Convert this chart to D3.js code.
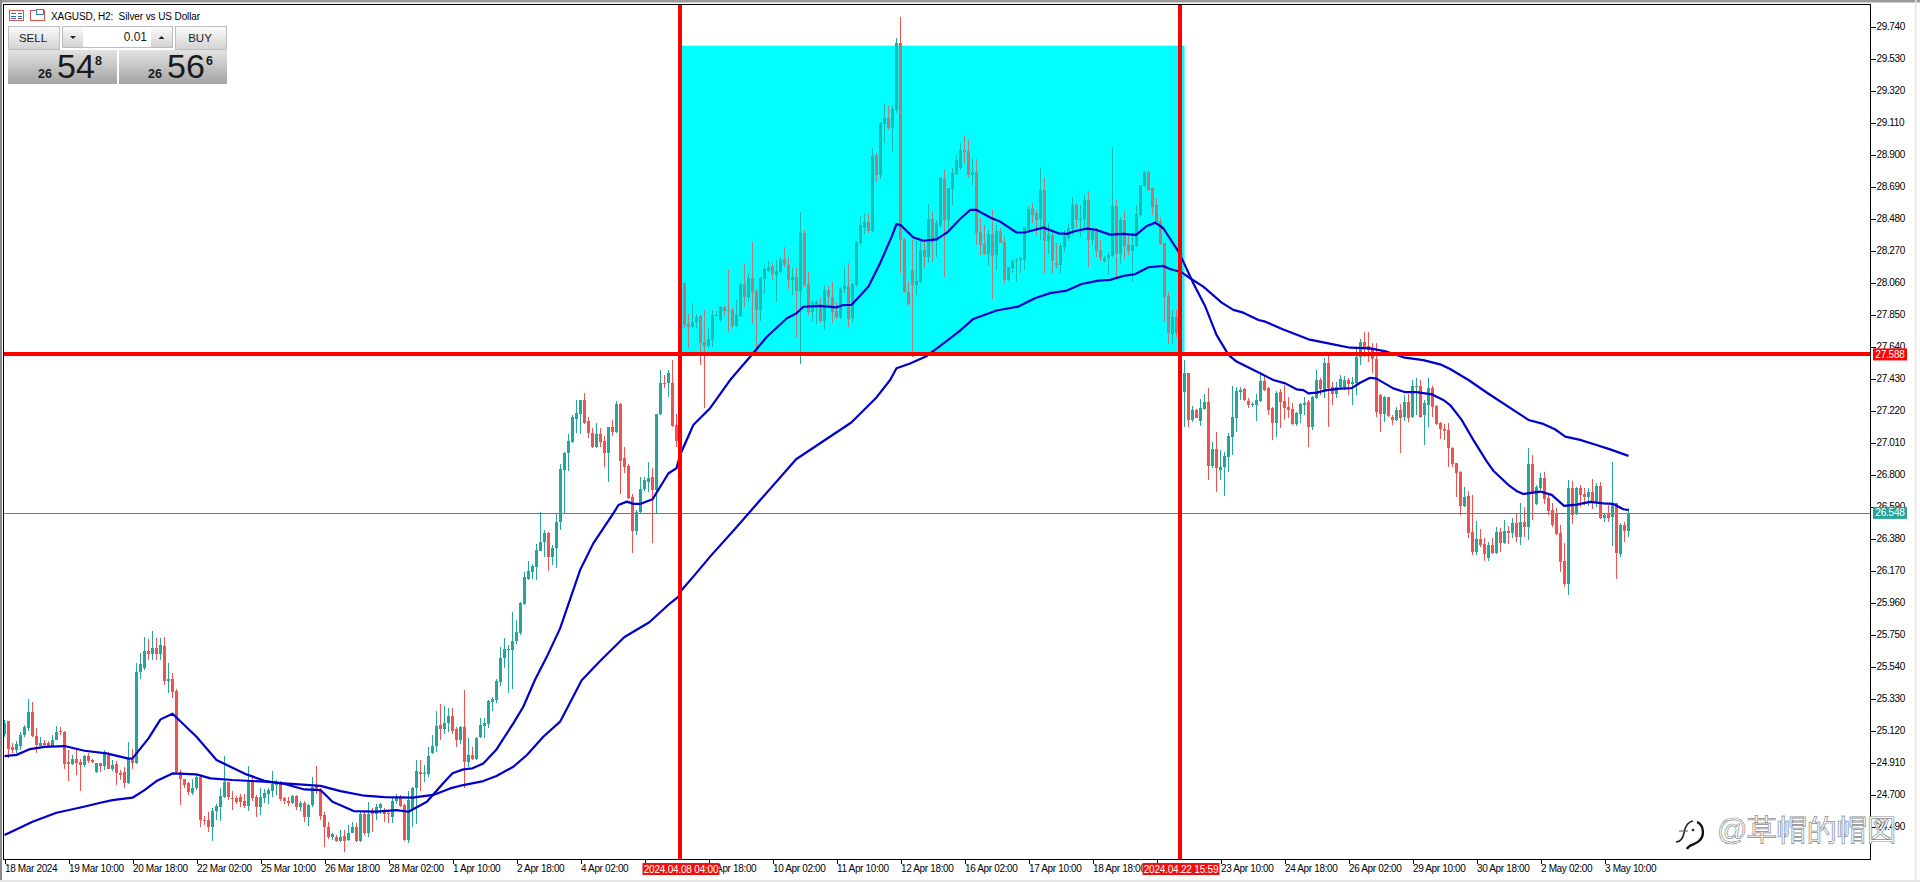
<!DOCTYPE html>
<html><head><meta charset="utf-8"><title>XAGUSD H2</title>
<script src="https://cdn.jsdelivr.net/npm/d3@7/dist/d3.min.js"></script>
<style>html,body{margin:0;padding:0;background:#fff;overflow:hidden}svg{display:block}
text{font-family:"Liberation Sans",Arial,sans-serif}</style></head><body><svg id="c" width="1920" height="882"></svg>
<script>
// open, high, low, close per tick group of 16 two-hour bars
const bars18Mar=[[25.10,25.19,25.08,25.17],[25.18,25.18,24.94,25.00],[25.01,25.04,24.97,24.99],[24.99,25.05,24.97,25.03],[25.02,25.11,24.99,25.09],[25.09,25.155,25.08,25.145],[25.135,25.325,25.12,25.24],[25.24,25.31,25.08,25.085],[25.085,25.135,24.975,25.025],[25.02,25.08,25.02,25.04],[25.035,25.06,25.015,25.025],[25.035,25.05,25.015,25.02],[25.02,25.09,25.015,25.06],[25.06,25.15,25.055,25.11],[25.12,25.145,25.09,25.11],[25.11,25.12,24.87,24.90]];
const bars19Mar=[[24.915,24.99,24.79,24.90],[24.90,24.96,24.895,24.93],[24.93,24.99,24.83,24.905],[24.915,24.935,24.72,24.895],[24.895,24.96,24.88,24.95],[24.95,24.97,24.905,24.92],[24.925,24.935,24.905,24.915],[24.845,24.91,24.84,24.905],[24.905,24.91,24.845,24.885],[24.885,24.99,24.86,24.97],[24.96,24.98,24.865,24.87],[24.865,24.925,24.855,24.895],[24.90,24.92,24.76,24.84],[24.84,24.86,24.795,24.825],[24.85,24.88,24.74,24.775],[24.775,25.045,24.77,24.93]];
const bars20Mar=[[24.93,25.0,24.87,24.905],[24.905,25.56,24.90,25.505],[25.505,25.63,25.46,25.555],[25.53,25.735,25.52,25.64],[25.64,25.72,25.585,25.625],[25.62,25.775,25.58,25.66],[25.66,25.725,25.585,25.625],[25.625,25.725,25.585,25.68],[25.675,25.735,25.42,25.445],[25.445,25.565,25.365,25.455],[25.455,25.50,25.335,25.375],[25.38,25.39,24.84,24.85],[24.85,24.86,24.63,24.80],[24.80,24.805,24.74,24.76],[24.775,24.785,24.695,24.715],[24.71,24.80,24.695,24.74]];
const bars22Mar=[[24.74,24.825,24.73,24.815],[24.815,24.825,24.49,24.53],[24.535,24.56,24.50,24.525],[24.53,24.585,24.455,24.49],[24.49,24.61,24.395,24.595],[24.59,24.64,24.53,24.625],[24.62,24.745,24.525,24.69],[24.685,24.95,24.68,24.785],[24.78,24.785,24.665,24.685],[24.675,24.72,24.60,24.67],[24.68,24.69,24.64,24.65],[24.685,24.705,24.62,24.65],[24.655,24.705,24.61,24.625],[24.625,24.885,24.595,24.78],[24.78,24.815,24.655,24.675],[24.685,24.695,24.55,24.615]];
const bars25Mar=[[24.615,24.74,24.565,24.685],[24.68,24.735,24.645,24.71],[24.705,24.74,24.64,24.73],[24.725,24.855,24.685,24.77],[24.76,24.795,24.695,24.785],[24.775,24.79,24.655,24.67],[24.68,24.685,24.64,24.655],[24.66,24.685,24.625,24.645],[24.645,24.70,24.635,24.69],[24.69,24.695,24.60,24.62],[24.615,24.66,24.59,24.645],[24.645,24.655,24.52,24.555],[24.555,24.64,24.495,24.63],[24.63,24.815,24.62,24.75],[24.755,24.885,24.705,24.725],[24.725,24.74,24.53,24.56]];
const bars26Mar=[[24.565,24.585,24.355,24.485],[24.49,24.52,24.405,24.42],[24.42,24.45,24.40,24.44],[24.42,24.435,24.39,24.395],[24.395,24.47,24.39,24.42],[24.425,24.47,24.32,24.395],[24.40,24.50,24.395,24.45],[24.45,24.52,24.445,24.49],[24.485,24.515,24.39,24.395],[24.395,24.585,24.39,24.575],[24.575,24.595,24.435,24.445],[24.445,24.65,24.42,24.575],[24.585,24.61,24.455,24.57],[24.57,24.64,24.53,24.62],[24.61,24.645,24.575,24.635],[24.60,24.61,24.52,24.57]];
const bars28Mar=[[24.58,24.60,24.51,24.57],[24.55,24.68,24.51,24.66],[24.655,24.705,24.64,24.685],[24.675,24.70,24.615,24.625],[24.63,24.64,24.395,24.40],[24.40,24.725,24.385,24.665],[24.60,24.75,24.485,24.74],[24.74,24.925,24.505,24.855],[24.85,24.925,24.725,24.835],[24.835,24.895,24.78,24.84],[24.835,25.01,24.815,24.95],[24.97,25.09,24.965,25.02],[25.02,25.245,24.98,25.15],[25.155,25.295,25.055,25.13],[25.13,25.28,25.10,25.17],[25.17,25.265,25.11,25.215]];
const bars1Apr=[[25.215,25.265,25.10,25.12],[25.128,25.14,25.014,25.06],[25.06,25.15,25.03,25.145],[25.145,25.385,24.74,24.915],[24.915,25.07,24.88,24.96],[24.96,25.015,24.925,24.93],[24.93,25.08,24.925,25.07],[25.08,25.20,25.07,25.155],[25.15,25.205,25.07,25.17],[25.163,25.32,25.135,25.316],[25.305,25.34,25.245,25.33],[25.32,25.46,25.30,25.445],[25.44,25.67,25.41,25.596],[25.595,25.73,25.53,25.655],[25.652,25.68,25.365,25.655],[25.65,25.90,25.395,25.705]];
const bars2Apr=[[25.705,25.845,25.69,25.765],[25.76,25.965,25.745,25.955],[25.95,26.16,25.945,26.125],[26.117,26.23,26.108,26.17],[26.16,26.215,26.112,26.2],[26.195,26.345,26.108,26.305],[26.30,26.556,26.295,26.357],[26.355,26.435,26.256,26.414],[26.414,26.42,26.169,26.26],[26.256,26.337,26.206,26.315],[26.315,26.545,26.184,26.486],[26.486,26.869,26.436,26.834],[26.83,26.95,26.545,26.944],[26.94,27.066,26.82,27.022],[27.016,27.19,27.005,27.18],[27.162,27.289,27.07,27.202]];
const bars4Apr=[[27.197,27.289,27.066,27.289],[27.289,27.333,27.13,27.136],[27.15,27.18,27.038,27.07],[27.075,27.103,26.972,26.98],[26.98,27.136,26.972,27.066],[27.066,27.103,26.98,27.016],[27.02,27.05,26.85,26.944],[26.944,27.115,26.753,27.11],[27.11,27.158,27.05,27.08],[27.08,27.283,27.075,27.263],[27.263,27.267,26.672,26.891],[26.906,26.983,26.812,26.847],[26.856,26.867,26.637,26.644],[26.655,26.672,26.283,26.432],[26.432,26.567,26.403,26.556],[26.556,26.786,26.55,26.703]];
const bars5Apr=[[26.703,26.782,26.694,26.764],[26.75,26.885,26.688,26.775],[26.782,26.84,26.348,26.699],[26.699,27.197,26.545,27.197],[27.197,27.486,27.19,27.399],[27.403,27.453,27.366,27.392],[27.40,27.486,27.311,27.464],[27.403,27.552,27.114,27.119],[27.125,27.2,26.98,27.022],[27.02,28.1,26.99,28.05],[28.059,28.06,27.76,27.781],[27.787,27.853,27.633,27.77],[27.77,27.927,27.76,27.80],[27.80,27.855,27.76,27.836],[27.84,27.847,27.52,27.665],[27.672,27.88,27.235,27.643]];
const bars8Apr=[[27.643,27.76,27.63,27.687],[27.685,27.88,27.64,27.847],[27.845,27.87,27.84,27.85],[27.814,27.907,27.80,27.90],[27.897,27.907,27.85,27.875],[27.88,28.142,27.737,27.873],[27.878,27.89,27.76,27.775],[27.775,27.945,27.77,27.847],[27.84,28.059,27.835,28.05],[28.05,28.18,27.90,27.967],[27.967,28.12,27.934,28.087],[28.087,28.324,27.79,28.0],[28.007,28.02,27.595,27.88],[27.88,28.098,27.81,28.087],[28.08,28.175,27.985,28.146],[28.138,28.203,28.13,28.164]];
const bars10Apr=[[28.168,28.186,28.076,28.116],[28.11,28.208,27.934,28.138],[28.131,28.23,28.12,28.212],[28.217,28.29,28.164,28.175],[28.175,28.23,28.02,28.076],[28.076,28.153,27.978,28.094],[28.094,28.164,27.694,28.006],[28.006,28.525,27.525,28.387],[28.387,28.404,28.03,28.043],[28.05,28.13,27.847,27.868],[27.868,27.938,27.80,27.934],[27.89,27.945,27.79,27.934],[27.906,27.956,27.796,27.81],[27.81,28.043,27.748,28.01],[28.01,28.037,27.90,27.963],[27.967,28.065,27.796,27.868]];
const bars11Apr=[[27.875,27.934,27.818,27.836],[27.836,28.028,27.818,28.02],[28.02,28.164,27.99,28.037],[28.037,28.186,27.766,27.818],[27.825,28.059,27.80,28.05],[28.043,28.335,28.03,28.328],[28.317,28.496,28.306,28.437],[28.415,28.514,28.38,28.459],[28.459,28.514,28.382,28.40],[28.40,28.94,28.393,28.89],[28.897,28.908,28.72,28.765],[28.765,29.115,28.737,29.105],[29.10,29.229,28.973,29.142],[29.142,29.218,29.06,29.072],[29.072,29.225,28.918,29.20],[29.192,29.662,29.17,29.63]];
const bars12Apr=[[29.63,29.80,28.12,28.339],[28.343,28.35,27.99,28.0],[28.0,28.065,27.906,27.919],[28.142,28.339,27.573,28.043],[28.043,28.33,27.98,28.07],[28.066,28.335,28.055,28.273],[28.273,28.339,28.153,28.23],[28.23,28.575,28.186,28.474],[28.474,28.525,28.197,28.321],[28.33,28.47,28.23,28.453],[28.43,28.755,28.415,28.744],[28.739,28.803,28.094,28.47],[28.47,28.682,28.415,28.678],[28.672,28.81,28.568,28.781],[28.772,28.897,28.765,28.864],[28.81,28.978,28.798,28.93]];
const bars16Apr=[[28.93,29.02,28.84,28.917],[28.926,28.996,28.744,28.766],[28.766,28.875,28.70,28.788],[28.788,28.87,28.307,28.388],[28.392,28.482,28.241,28.307],[28.313,28.438,28.241,28.247],[28.247,28.405,28.169,28.379],[28.379,28.536,27.95,28.234],[28.241,28.438,28.143,28.398],[28.398,28.416,28.318,28.318],[28.328,28.361,28.059,28.077],[28.077,28.164,28.072,28.16],[28.154,28.208,28.12,28.204],[28.2,28.219,28.066,28.208],[28.208,28.23,28.12,28.219],[28.208,28.427,28.143,28.423]];
const bars17Apr=[[28.405,28.563,28.394,28.541],[28.547,28.58,28.449,28.503],[28.514,28.536,28.372,28.47],[28.475,28.81,28.34,28.668],[28.668,28.744,28.116,28.335],[28.335,28.45,28.25,28.372],[28.372,28.383,28.116,28.204],[28.186,28.318,28.153,28.175],[28.175,28.318,28.116,28.3],[28.296,28.405,28.263,28.366],[28.35,28.449,28.335,28.416],[28.41,28.62,28.372,28.569],[28.569,28.58,28.416,28.47],[28.47,28.569,28.361,28.48],[28.475,28.635,28.416,28.602],[28.602,28.663,28.16,28.339]];
const bars18Apr=[[28.339,28.416,28.306,28.40],[28.394,28.416,28.23,28.27],[28.274,28.34,28.204,28.219],[28.204,28.234,28.19,28.219],[28.219,28.263,28.11,28.241],[28.234,28.948,28.226,28.563],[28.563,28.602,28.099,28.247],[28.247,28.493,28.182,28.471],[28.471,28.532,28.213,28.3],[28.306,28.372,28.241,28.27],[28.27,28.383,28.066,28.306],[28.30,28.569,28.296,28.508],[28.503,28.70,28.492,28.70],[28.694,28.795,28.69,28.788],[28.788,28.795,28.663,28.668],[28.678,28.69,28.503,28.558]];
const bars22Apr=[[28.569,28.613,28.449,28.46],[28.466,28.482,28.306,28.313],[28.318,28.322,27.803,27.968],[27.972,28.0,27.657,27.727],[27.725,27.88,27.657,27.832],[27.832,27.88,27.705,27.727],[27.73,27.73,27.3,27.35],[27.343,27.551,27.114,27.464],[27.464,27.468,27.109,27.157],[27.157,27.249,27.146,27.223],[27.223,27.227,27.168,27.168],[27.153,27.293,27.118,27.234],[27.228,27.328,27.223,27.278],[27.278,27.365,26.764,26.855],[26.855,27.015,26.84,26.967],[26.967,27.081,26.687,26.84]];
const bars23Apr=[[26.829,26.961,26.764,26.851],[26.851,26.95,26.659,26.921],[26.917,27.074,26.818,27.052],[27.048,27.381,26.928,27.175],[27.168,27.372,27.081,27.35],[27.343,27.372,27.289,27.354],[27.359,27.365,27.282,27.289],[27.284,27.30,27.234,27.256],[27.26,27.278,27.245,27.263],[27.256,27.328,27.153,27.289],[27.284,27.475,27.278,27.416],[27.413,27.453,27.35,27.354],[27.365,27.372,27.19,27.223],[27.234,27.24,27.026,27.14],[27.14,27.35,27.044,27.337],[27.343,27.359,27.103,27.278]];
const bars24Apr=[[27.282,27.387,27.157,27.234],[27.241,27.311,27.168,27.223],[27.227,27.267,27.125,27.131],[27.131,27.212,27.118,27.205],[27.197,27.271,27.14,27.262],[27.256,27.31,27.19,27.271],[27.278,27.289,26.978,27.114],[27.109,27.315,27.092,27.306],[27.30,27.486,27.293,27.42],[27.42,27.431,27.322,27.359],[27.354,27.562,27.30,27.534],[27.534,27.577,27.114,27.365],[27.372,27.409,27.256,27.328],[27.328,27.409,27.30,27.376],[27.372,27.453,27.354,27.424],[27.372,27.446,27.354,27.42]];
const bars26Apr=[[27.42,27.431,27.322,27.394],[27.394,27.437,27.256,27.409],[27.398,27.639,27.322,27.573],[27.569,27.687,27.518,27.672],[27.672,27.733,27.573,27.639],[27.643,27.733,27.54,27.617],[27.628,27.665,27.464,27.556],[27.556,27.66,27.179,27.212],[27.32,27.328,27.081,27.2],[27.2,27.315,27.146,27.31],[27.306,27.31,27.179,27.184],[27.179,27.19,27.125,27.157],[27.157,27.245,27.153,27.223],[27.223,27.262,26.939,27.168],[27.175,27.322,27.153,27.278],[27.278,27.326,27.146,27.168]];
const bars29Apr=[[27.175,27.42,27.168,27.381],[27.376,27.431,27.19,27.381],[27.381,27.42,27.168,27.179],[27.19,27.289,26.993,27.267],[27.256,27.431,27.109,27.365],[27.365,27.381,27.179,27.245],[27.249,27.256,27.125,27.131],[27.135,27.146,27.03,27.096],[27.098,27.131,27.026,27.088],[27.092,27.14,26.851,26.971],[26.976,26.983,26.852,26.869],[26.874,26.878,26.655,26.812],[26.819,26.825,26.535,26.594],[26.594,26.72,26.585,26.65],[26.659,26.694,26.381,26.419],[26.425,26.666,26.272,26.294]];
const bars30Apr=[[26.294,26.495,26.272,26.375],[26.375,26.44,26.322,26.338],[26.344,26.381,26.235,26.278],[26.255,26.36,26.235,26.338],[26.338,26.381,26.279,26.287],[26.283,26.454,26.279,26.425],[26.425,26.447,26.294,26.353],[26.353,26.502,26.344,26.429],[26.429,26.462,26.344,26.414],[26.419,26.513,26.381,26.484],[26.48,26.541,26.36,26.392],[26.392,26.611,26.338,26.491],[26.491,26.585,26.392,26.458],[26.458,26.972,26.37,26.869],[26.869,26.928,26.502,26.672],[26.607,26.731,26.6,26.72]];
const bars2May=[[26.71,26.808,26.698,26.775],[26.775,26.819,26.607,26.637],[26.644,26.666,26.535,26.563],[26.567,26.611,26.458,26.469],[26.55,26.578,26.403,26.41],[26.414,26.469,26.162,26.228],[26.235,26.349,26.064,26.082],[26.082,26.764,26.009,26.709],[26.709,26.76,26.475,26.535],[26.55,26.72,26.535,26.709],[26.709,26.731,26.585,26.666],[26.672,26.709,26.6,26.65],[26.655,26.709,26.594,26.688],[26.688,26.769,26.572,26.622],[26.622,26.742,26.585,26.727],[26.727,26.753,26.506,26.513]];
const bars3May=[[26.513,26.545,26.491,26.535],[26.55,26.6,26.491,26.513],[26.519,26.88,26.331,26.607],[26.611,26.615,26.114,26.287],[26.279,26.484,26.261,26.469],[26.469,26.491,26.36,26.43],[26.43,26.578,26.392,26.55]];

// moving averages, [bar index, price], read at the line's bends
const maFast=[[0,24.952],[3,24.96],[6.4,24.998],[10,25.013],[15,25.018],[20,24.987],[25.5,24.97],[31,24.935],[32,24.937],[36,25.068],[39,25.193],[42,25.23],[48,25.079],[53,24.926],[60.5,24.832],[65,24.79],[70,24.769],[75,24.733],[79,24.729],[82,24.652],[87.3,24.591],[93,24.587],[98,24.598],[101,24.587],[104,24.63],[105.6,24.653],[110,24.784],[112,24.839],[114.7,24.865],[117,24.872],[119.7,24.904],[123,24.996],[127.2,25.167],[129.7,25.276],[132.6,25.451],[135.6,25.605],[138.9,25.79],[143.9,26.173],[147.2,26.348],[152.2,26.545],[153.5,26.6],[155.6,26.622],[157.2,26.607],[158.9,26.607],[162,26.637],[166,26.808],[168,26.841],[168.9,26.928],[172.2,27.125],[176.4,27.235],[181.4,27.42],[186.4,27.573],[190.6,27.704],[195.6,27.825],[198,27.858],[199.7,27.901],[203.9,27.906],[208,27.897],[209.7,27.912],[211.8,27.914],[216,28.033],[218.9,28.186],[221.8,28.361],[223,28.444],[224,28.437],[227.2,28.356],[229.7,28.334],[233,28.343],[235.6,28.387],[238.9,28.477],[241.4,28.536],[243,28.536],[246.8,28.482],[248.9,28.46],[253,28.388],[255,28.388],[259.7,28.42],[263.5,28.383],[265.6,28.379],[267.7,28.398],[270.6,28.414],[273,28.405],[276.4,28.374],[279.7,28.379],[282.9,28.372],[285.6,28.431],[287.7,28.453],[289.7,28.416],[293.5,28.263],[294.7,28.197],[297.2,28.055],[300.2,27.902],[303,27.716],[306,27.585],[308,27.541],[313.9,27.464],[317.2,27.42],[320.2,27.398],[323,27.359],[324.7,27.354],[326,27.332],[328,27.337],[330.6,27.354],[333.9,27.363],[336.8,27.367],[338.9,27.402],[341.4,27.435],[343,27.429],[347.2,27.365],[350,27.341],[353,27.341],[356.8,27.326],[359.7,27.289],[361.4,27.256],[364.3,27.158],[367.2,27.027],[370.6,26.885],[372.2,26.825],[376,26.731],[378,26.692],[379.7,26.672],[383.9,26.688],[386.8,26.666],[389.9,26.594],[393,26.602],[396.4,26.62],[399.7,26.611],[402.2,26.607],[404.7,26.572],[406,26.567]];
const maSlow=[[0,24.434],[4,24.484],[7,24.521],[13,24.58],[19,24.615],[24,24.646],[27,24.663],[32,24.679],[35,24.729],[38,24.788],[42,24.838],[48,24.832],[51.5,24.806],[57,24.795],[65,24.784],[70,24.773],[79,24.757],[84,24.722],[90,24.692],[95,24.683],[102,24.679],[107.2,24.697],[111.4,24.74],[114.7,24.762],[119.7,24.788],[123,24.821],[127.2,24.882],[130.6,24.959],[134.7,25.079],[138.9,25.178],[144.3,25.45],[148.9,25.576],[155,25.734],[161.2,25.83],[166.4,25.955],[168.5,25.998],[169.3,26.042],[172.2,26.13],[176.4,26.261],[182.6,26.443],[197.9,26.90],[211.7,27.141],[217.8,27.30],[221.4,27.42],[223,27.497],[226.4,27.529],[230.6,27.578],[236.4,27.693],[238.9,27.744],[242.2,27.821],[248,27.876],[253.5,27.902],[257.6,27.957],[261.4,27.99],[265.6,28.007],[269.3,28.05],[273.5,28.072],[276.4,28.077],[279.7,28.103],[282.6,28.114],[286,28.16],[289.7,28.169],[291.4,28.149],[294.3,28.127],[296.4,28.088],[299.7,28.033],[304.3,27.928],[307.2,27.88],[309.7,27.862],[313.5,27.814],[315.2,27.803],[319.7,27.752],[326,27.687],[332.2,27.654],[336.4,27.632],[341.4,27.628],[345.6,27.606],[349.7,27.569],[354.7,27.551],[358.9,27.523],[361.4,27.492],[366,27.42],[371,27.33],[381,27.158],[384.7,27.132],[387.6,27.097],[390.2,27.049],[393.9,27.027],[398,26.994],[401.4,26.965],[406,26.922]];

const priceTicks=[29.74,29.53,29.32,29.11,28.90,28.69,28.48,28.27,28.06,27.85,27.64,27.43,27.22,27.01,26.80,26.59,26.38,26.17,25.96,25.75,25.54,25.33,25.12,24.91,24.70,24.49];
const timeTicks=["18 Mar 2024","19 Mar 10:00","20 Mar 18:00","22 Mar 02:00","25 Mar 10:00","26 Mar 18:00","28 Mar 02:00","1 Apr 10:00","2 Apr 18:00","4 Apr 02:00","5 Apr 10:00","8 Apr 18:00","10 Apr 02:00","11 Apr 10:00","12 Apr 18:00","16 Apr 02:00","17 Apr 10:00","18 Apr 18:00","22 Apr 02:00","23 Apr 10:00","24 Apr 18:00","26 Apr 02:00","29 Apr 10:00","30 Apr 18:00","2 May 02:00","3 May 10:00"];
const barsPerTick=16;
const levelPrice=27.588, lastPrice=26.548, boxTopPrice=29.614;
const markers=[{bar:169,label:"2024.04.08 04:00"},{bar:294,label:"2024.04.22 15:59"}];
const boxBars=[169,295];

const candles=[bars18Mar,bars19Mar,bars20Mar,bars22Mar,bars25Mar,bars26Mar,bars28Mar,bars1Apr,bars2Apr,bars4Apr,bars5Apr,bars8Apr,bars10Apr,bars11Apr,bars12Apr,bars16Apr,bars17Apr,bars18Apr,bars22Apr,bars23Apr,bars24Apr,bars26Apr,bars29Apr,bars30Apr,bars2May,bars3May].flat();

const W=1920,H=882,L=4,R=1870,T=4,B=859;
const GREEN="#26a69a",RED="#ef5350",BLUE="#0000cd",LEVEL="#ff0000";
const x=d3.scaleLinear().domain([0,400]).range([4.5,1604.5]);
const y=d3.scaleLinear().domain([29.74,24.49]).range([26.5,826.5]);
const svg=d3.select("#c");
const defs=svg.append("defs");
function grad(id,a,b){const g=defs.append("linearGradient").attr("id",id).attr("x1",0).attr("y1",0).attr("x2",0).attr("y2",1);
 g.append("stop").attr("offset",0).attr("stop-color",a);g.append("stop").attr("offset",1).attr("stop-color",b);}
grad("btn","#fbfbfb","#d2d2d2");grad("pr","#e2e2e2","#a4a4a4");
defs.append("clipPath").attr("id","plot").append("rect").attr("x",L).attr("y",T).attr("width",R-L).attr("height",B-T);

// window frame
svg.append("rect").attr("width",W).attr("height",H).attr("fill","#fff");
svg.append("rect").attr("width",W).attr("height",2.5).attr("fill","#9a9a9a");
svg.append("rect").attr("width",2).attr("height",H).attr("fill","#8a8a8a");
svg.append("rect").attr("y",H-2).attr("width",W).attr("height",2).attr("fill","#e6e6e6");
svg.append("rect").attr("x",W-5).attr("width",1.5).attr("height",H).attr("fill","#e6e6e6");

const plot=svg.append("g").attr("clip-path","url(#plot)");
plot.append("rect").attr("x",x(boxBars[0])).attr("y",y(boxTopPrice)).attr("width",x(boxBars[1])-x(boxBars[0])).attr("height",y(levelPrice)-y(boxTopPrice)).attr("fill","#00ffff");
plot.append("line").attr("x1",L).attr("x2",R).attr("y1",Math.round(y(lastPrice))+.5).attr("y2",Math.round(y(lastPrice))+.5).attr("stroke","#1f9c90").attr("shape-rendering","crispEdges");

const col=d=>d[3]>=d[0]?GREEN:RED;
const cg=plot.append("g").attr("shape-rendering","crispEdges");
cg.selectAll("line").data(candles).join("line")
 .attr("x1",(d,i)=>Math.floor(x(i))+.5).attr("x2",(d,i)=>Math.floor(x(i))+.5)
 .attr("y1",d=>y(d[1])).attr("y2",d=>y(d[2])).attr("stroke",col);
cg.selectAll("rect").data(candles).join("rect")
 .attr("x",(d,i)=>Math.floor(x(i))-1).attr("width",3)
 .attr("y",d=>y(Math.max(d[0],d[3]))).attr("height",d=>Math.max(1,Math.abs(y(d[0])-y(d[3]))))
 .attr("fill",col);
// candles lying on the box look washed by the box colour
plot.append("rect").attr("x",x(boxBars[0])).attr("y",y(boxTopPrice)).attr("width",x(boxBars[1])-x(boxBars[0])).attr("height",y(levelPrice)-y(boxTopPrice)).attr("fill","#00ffff").attr("opacity",.22);

const line=d3.line().x(d=>x(d[0])).y(d=>y(d[1]));
[maSlow,maFast].forEach(m=>plot.append("path").attr("d",line(m)).attr("fill","none").attr("stroke",BLUE).attr("stroke-width",2.2).attr("stroke-linejoin","round"));

// red level and time lines
plot.append("line").attr("x1",L).attr("x2",R).attr("y1",y(levelPrice)-.5).attr("y2",y(levelPrice)-.5).attr("stroke",LEVEL).attr("stroke-width",4);
plot.selectAll(".v").data(markers).join("line").attr("class","v").attr("x1",d=>x(d.bar)-.5).attr("x2",d=>x(d.bar)-.5).attr("y1",T).attr("y2",B).attr("stroke",LEVEL).attr("stroke-width",4);

// axes
const rightAxis=d3.axisRight(y).tickValues(priceTicks).tickFormat(d3.format(".3f")).tickSize(5).tickPadding(1);
const ra=svg.append("g").attr("transform",`translate(${R+.5},0)`).call(rightAxis);
const tickBars=timeTicks.map((t,i)=>i*barsPerTick);
const bottomAxis=d3.axisBottom(x).tickValues(tickBars).tickFormat((d,i)=>timeTicks[i]).tickSize(4).tickPadding(1);
const ba=svg.append("g").attr("transform",`translate(0,${B+.5})`).call(bottomAxis);
[ra,ba].forEach(g=>{g.select(".domain").remove();g.selectAll("line").attr("stroke","#000").attr("shape-rendering","crispEdges");
 g.selectAll("text").attr("fill","#000").attr("font-size",10).attr("letter-spacing",-.35).attr("font-family",'"Liberation Sans",Arial,sans-serif');});
ba.selectAll("text").attr("text-anchor","start");
svg.append("rect").attr("x",L-.5).attr("y",T+.5).attr("width",R-L+1).attr("height",B-T).attr("fill","none").attr("stroke","#000").attr("shape-rendering","crispEdges");

// price and time tags
function tag(cx,cy,w,h,fill,label){svg.append("rect").attr("x",cx).attr("y",cy).attr("width",w).attr("height",h).attr("fill",fill);
 svg.append("text").attr("x",cx+w/2).attr("y",cy+h/2+3.5).attr("text-anchor","middle").attr("fill","#fff").attr("font-size",10).attr("letter-spacing",-.2).text(label);}
tag(R+3,y(levelPrice)-6,34,12,"#ff0000",levelPrice.toFixed(3));
tag(R+3,y(lastPrice)-6,34,12,GREEN,lastPrice.toFixed(3));
markers.forEach(m=>tag(x(m.bar)-38,B+4,77,12,"#f01010",m.label));

// trade panel
const panel=svg.append("g");
panel.append("text").attr("x",51).attr("y",19.5).attr("font-size",10).attr("fill","#000").style("white-space","pre").attr("letter-spacing",-.1).text("XAGUSD, H2:  Silver vs US Dollar");
function box(px,py,w,h,f,s){return panel.append("rect").attr("x",px).attr("y",py).attr("width",w).attr("height",h).attr("fill",f).attr("stroke",s||"none").attr("shape-rendering","crispEdges");}
box(9.5,10.5,14,10,"#fff","#d9534f");
[[11,13],[11,15.5],[11,18],[17.5,13],[17.5,15.5],[17.5,18]].forEach(p=>box(p[0],p[1],4.5,1,"#3a5fb0"));
box(30.5,10.5,14,10,"#fff","#d9534f");box(36,9,7,5,"#fff","#3a7fb0");
function label(t,lx,ly,fs,anchor,fw){panel.append("text").attr("x",lx).attr("y",ly).attr("font-size",fs).attr("text-anchor",anchor||"middle").attr("font-weight",fw||"normal").attr("fill","#1a1a1a").text(t);}
box(8.5,26.5,51,23,"url(#btn)","#bdbdbd");label("SELL",33,42,11.5);
box(175.5,26.5,51,23,"url(#btn)","#bdbdbd");label("BUY",200,42,11.5);
box(62.5,26.5,110,21,"#fff","#bdbdbd");box(63,27,20,20,"url(#btn)");box(151,27,21,20,"url(#btn)");
panel.append("path").attr("d","M70 36h6l-3 3z").attr("fill","#222");panel.append("path").attr("d","M158.5 39h6l-3-3z").attr("fill","#222");
label("0.01",147,41,12,"end");
box(8,50,109,34,"url(#pr)");box(119,50,108,34,"url(#pr)");
box(12,49.5,44,.8,"#8f8f8f");box(179,49.5,44,.8,"#8f8f8f");
const priceParts=[["26","54","8",38,57,95],["26","56","6",148,167,206]];
priceParts.forEach(p=>{label(p[0],p[3],78,12.5,"start","bold");label(p[1],p[4],78,34,"start");label(p[2],p[5],65,12.5,"start","bold");});

// watermark
const wm=svg.append("g");
wm.append("text").attr("x",1717).attr("y",840).attr("font-size",30).attr("font-family",'"Noto Sans CJK JP",sans-serif').attr("fill","#fff").attr("stroke","#8c8c8c").attr("stroke-width",.7).text("@草帽的帽図");
wm.append("path").attr("d","M1693 821c-6 1-8 6-9 12c-1 5-3 9-8 9").attr("fill","none").attr("stroke","#222").attr("stroke-width",1.6);
wm.append("path").attr("d","M1697 822c7 3 8 14 2 19c-4 4-10 3-12 8").attr("fill","none").attr("stroke","#111").attr("stroke-width",2.4);
wm.append("path").attr("d","M1679 831h9").attr("stroke","#555").attr("stroke-width",1);
wm.append("circle").attr("cx",1693).attr("cy",830).attr("r",1.3).attr("fill","#222");
</script></body></html>
